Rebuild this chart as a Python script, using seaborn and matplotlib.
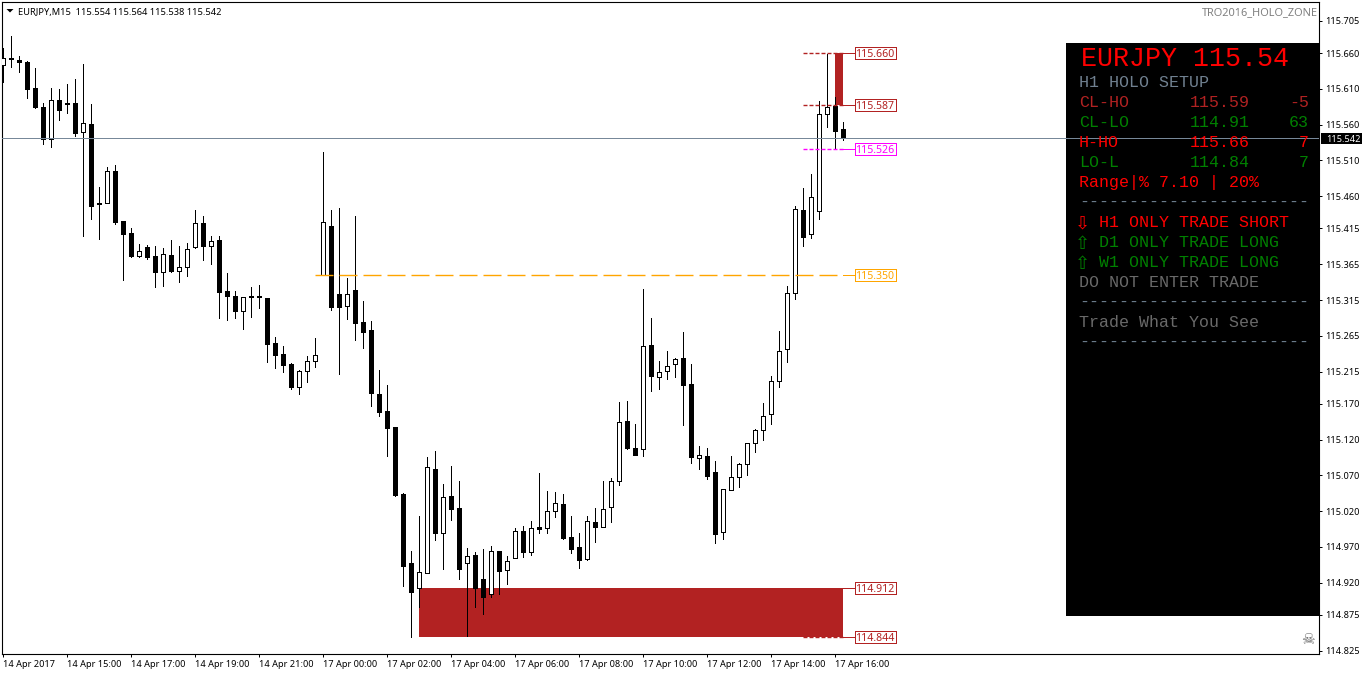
import matplotlib
matplotlib.use('Agg')
import matplotlib.pyplot as plt
from matplotlib.patches import Rectangle, Polygon
from matplotlib.transforms import Affine2D
import numpy as np
import pandas as pd
import seaborn as sns

# EURJPY M15 candles
opens = [115.643, 115.652, 115.650, 115.648, 115.611, 115.585, 115.540, 115.595, 115.590, 115.590,
         115.550, 115.561, 115.451, 115.451, 115.495, 115.426, 115.409, 115.377, 115.389, 115.377,
         115.354, 115.378, 115.356, 115.361, 115.389, 115.423, 115.391, 115.399, 115.328, 115.321,
         115.300, 115.321, 115.321, 115.318, 115.255, 115.240, 115.225, 115.194, 115.216, 115.230,
         115.350, 115.418, 115.323, 115.307, 115.329, 115.284, 115.273, 115.184, 115.160, 115.138,
         115.044, 114.947, 114.913, 114.934, 115.079, 114.990, 115.041, 115.024, 114.947, 114.959,
         114.925, 114.904, 114.964, 114.938, 114.955, 114.992, 114.963, 114.998, 114.996, 115.020,
         115.030, 114.984, 114.970, 114.953, 115.005, 114.998, 115.026, 115.062, 115.146, 115.108,
         115.107, 115.252, 115.208, 115.216, 115.225, 115.234, 115.198, 115.094, 115.097, 115.075,
         114.991, 115.050, 115.068, 115.086, 115.115, 115.133, 115.156, 115.202, 115.247, 115.325,
         115.441, 115.407, 115.439, 115.575, 115.586, 115.554]
highs = [115.667, 115.684, 115.656, 115.649, 115.639, 115.590, 115.611, 115.610, 115.617, 115.624,
         115.645, 115.589, 115.473, 115.501, 115.504, 115.426, 115.416, 115.393, 115.392, 115.391,
         115.388, 115.399, 115.391, 115.395, 115.441, 115.433, 115.405, 115.405, 115.353, 115.328,
         115.319, 115.333, 115.336, 115.318, 115.263, 115.251, 115.227, 115.217, 115.237, 115.262,
         115.522, 115.441, 115.444, 115.346, 115.433, 115.314, 115.286, 115.217, 115.196, 115.138,
         115.046, 114.964, 115.013, 115.096, 115.104, 115.058, 115.083, 115.062, 114.968, 114.963,
         114.967, 114.971, 114.964, 114.957, 114.996, 114.999, 115.006, 115.073, 115.048, 115.047,
         115.044, 115.013, 114.990, 115.013, 115.024, 115.062, 115.066, 115.172, 115.174, 115.142,
         115.330, 115.290, 115.230, 115.244, 115.234, 115.270, 115.225, 115.111, 115.108, 115.090,
         115.051, 115.097, 115.087, 115.115, 115.135, 115.171, 115.209, 115.272, 115.335, 115.446,
         115.472, 115.491, 115.593, 115.659, 115.599, 115.564]
lows = [115.620, 115.641, 115.634, 115.597, 115.583, 115.533, 115.529, 115.567, 115.576, 115.544,
        115.405, 115.428, 115.400, 115.451, 115.421, 115.343, 115.375, 115.375, 115.372, 115.333,
        115.335, 115.354, 115.340, 115.349, 115.388, 115.371, 115.365, 115.290, 115.287, 115.290,
        115.274, 115.291, 115.304, 115.228, 115.220, 115.214, 115.190, 115.184, 115.200, 115.221,
        115.350, 115.301, 115.212, 115.288, 115.259, 115.248, 115.167, 115.153, 115.097, 115.041,
        114.915, 114.844, 114.886, 114.934, 114.980, 114.939, 115.008, 114.925, 114.846, 114.886,
        114.876, 114.900, 114.904, 114.918, 114.954, 114.956, 114.959, 114.990, 114.990, 115.012,
        114.981, 114.961, 114.940, 114.952, 114.977, 114.998, 115.005, 115.057, 115.107, 115.098,
        115.097, 115.188, 115.190, 115.205, 115.208, 115.140, 115.087, 115.079, 115.065, 114.976,
        114.981, 115.050, 115.054, 115.070, 115.102, 115.119, 115.142, 115.194, 115.228, 115.316,
        115.391, 115.402, 115.428, 115.557, 115.526, 115.538]
closes = [115.653, 115.653, 115.648, 115.610, 115.585, 115.540, 115.595, 115.581, 115.589, 115.548,
          115.562, 115.446, 115.449, 115.495, 115.424, 115.407, 115.377, 115.384, 115.375, 115.354,
          115.379, 115.356, 115.361, 115.386, 115.423, 115.391, 115.398, 115.326, 115.321, 115.300,
          115.319, 115.319, 115.319, 115.254, 115.238, 115.224, 115.194, 115.216, 115.230, 115.238,
          115.424, 115.305, 115.305, 115.323, 115.283, 115.270, 115.185, 115.159, 115.136, 115.043,
          114.943, 114.907, 114.935, 115.082, 114.990, 115.040, 115.023, 114.939, 114.957, 114.913,
          114.900, 114.964, 114.936, 114.950, 114.992, 114.963, 114.996, 114.995, 115.020, 115.031,
          114.982, 114.967, 114.952, 115.006, 114.998, 115.023, 115.062, 115.144, 115.108, 115.098,
          115.251, 115.209, 115.214, 115.223, 115.233, 115.196, 115.096, 115.098, 115.069, 114.988,
          115.051, 115.068, 115.086, 115.115, 115.133, 115.153, 115.202, 115.244, 115.325, 115.442,
          115.403, 115.459, 115.575, 115.585, 115.551, 115.542]

price_ticks = [115.705, 115.660, 115.610, 115.560, 115.510, 115.460, 115.415, 115.365, 115.315, 115.265,
               115.215, 115.170, 115.120, 115.070, 115.020, 114.970, 114.920, 114.875, 114.825]
time_tick_bars = [0, 8, 16, 24, 32, 40, 48, 56, 64, 72, 80, 88, 96, 104]
time_tick_labels = ['14 Apr 2017', '14 Apr 15:00', '14 Apr 17:00', '14 Apr 19:00', '14 Apr 21:00',
                    '17 Apr 00:00', '17 Apr 02:00', '17 Apr 04:00', '17 Apr 06:00', '17 Apr 08:00',
                    '17 Apr 10:00', '17 Apr 12:00', '17 Apr 14:00', '17 Apr 16:00']

last_price = 115.542
level_values = [115.660, 115.587, 115.526, 115.350, 114.912, 114.844]
level_colors = ['firebrick', 'firebrick', 'magenta', 'orange', 'firebrick', 'firebrick']
level_start_bars = [100, 100, 100, 39, None, 100]

panel_rows = [('H1 HOLO SETUP', 'slategray'), ('CL-HO', 'firebrick'), ('CL-LO', 'green'), ('H-HO', 'red'),
              ('LO-L', 'green'), ('Range|% 7.10 | 20%', 'red'), ('-' * 23, 'slategray')]
panel_values = ['115.59', '114.91', '115.66', '114.84']
panel_value_colors = ['firebrick', 'green', 'red', 'green']
panel_pips = ['-5', '63', '7', '7']
panel_pip_colors = ['firebrick', 'green', 'red', 'green']
trade_rows = [('H1 ONLY TRADE SHORT', 'red', '\u21e9'), ('D1 ONLY TRADE LONG', 'green', '\u21e7'),
              ('W1 ONLY TRADE LONG', 'green', '\u21e7')]

sns.set_style('white', rc={'axes.edgecolor': 'black', 'axes.linewidth': 0.72, 'xtick.bottom': True,
                           'ytick.right': True, 'xtick.color': 'black', 'ytick.color': 'black'})
plt.rcParams['font.family'] = ['Noto Sans', 'DejaVu Sans']

df = pd.DataFrame({'bar': np.arange(len(opens)), 'open': opens, 'high': highs, 'low': lows, 'close': closes})
df['body_low'] = df[['open', 'close']].min(axis=1)
df['body_size'] = (df['close'] - df['open']).abs()
wicks = df.melt(id_vars='bar', value_vars=['high', 'low'], value_name='price')

fig = plt.figure(figsize=(13.62, 6.75), dpi=100)
ax = fig.add_axes([2 / 1362, 21 / 675, 1317 / 1362, 652 / 675])
px = Affine2D().scale(1, -1).translate(0, 675)  # picture pixels, origin top left

BAR_PX = 8          # one candle step
PRICE_PX = 0.0013975  # price per pixel
SCALE_FONT = 6.6    # axis scales and chart header

# zones behind the candles
ax.add_patch(Rectangle((52, 114.844), 53, 114.912 - 114.844, color='firebrick', lw=0, zorder=1))
ax.add_patch(Rectangle((104, 115.587), 1, 115.660 - 115.587, color='firebrick', lw=0, zorder=1))

sns.lineplot(data=wicks, x='bar', y='price', units='bar', estimator=None, color='black', linewidth=0.72,
             antialiased=False, zorder=2, ax=ax)
for up, fill in [(True, 'white'), (False, 'black')]:
    sub = df[(df['close'] >= df['open']) == up]
    sns.barplot(data=sub, x='bar', y='body_size', bottom=sub['body_low'].values, native_scale=True, width=0.5,
                color=fill, saturation=1, edgecolor='black', linewidth=0.72, errorbar=None,
                antialiased=False, zorder=3, ax=ax)

# level lines and price boxes
label_bar = 106.4
for value, color, start in zip(level_values, level_colors, level_start_bars):
    if start is not None:
        dashes = (18, 6) if color == 'orange' else (4, 2)
        ax.plot([start, 105], [value, value], color=color, lw=1.0, ls=(0, [d * 0.72 for d in dashes]), zorder=4)
    ax.plot([105, label_bar], [value, value], color=color, lw=0.72, antialiased=False, zorder=4)
    ax.add_patch(Rectangle((label_bar, value - 6 * PRICE_PX), 41 / BAR_PX, 12 * PRICE_PX, fc='white', ec=color,
                           lw=0.72, antialiased=False, zorder=4))
    ax.text(label_bar + 20.5 / BAR_PX, value, f'{value:.3f}', color=color, fontsize=7.6, ha='center',
            va='center_baseline', zorder=5)

# info panel
ax.add_patch(Rectangle((1066, 43), 254, 573, fc='black', lw=0, transform=px, zorder=6))
ax.axhline(last_price, color='#778899', lw=0.72, antialiased=False, zorder=7)


def mono(x, y, s, color, size=12, ha='left'):
    ax.text(x, y, s, color=color, fontsize=size, family='Liberation Mono', ha=ha, va='baseline',
            transform=px, zorder=8)


mono(1081, 66, 'EURJPY 115.54', 'red', size=19.2)
row_y = 87
for label, color in panel_rows:
    mono(1079, row_y, label, color)
    row_y += 20
for i in range(4):
    y = 107 + 20 * i
    mono(1190, y, panel_values[i], panel_value_colors[i])
    mono(1309, y, panel_pips[i], panel_pip_colors[i], ha='right')
row_y = 227
for label, color, arrow in trade_rows:
    ax.text(1082, row_y - 5, arrow, color=color, fontsize=13, family='DejaVu Sans', ha='center',
            va='center_baseline', transform=px, zorder=8)
    mono(1099, row_y, label, color)
    row_y += 20
mono(1079, 287, 'DO NOT ENTER TRADE', 'dimgray')
mono(1079, 307, '-' * 23, 'slategray')
mono(1079, 327, 'Trade What You See', 'dimgray')
mono(1079, 347, '-' * 23, 'slategray')

# chart furniture
ax.add_patch(Polygon([(6.5, 9), (13.5, 9), (10, 12.5)], fc='black', lw=0, transform=px, zorder=8))
ax.text(18, 11, 'EURJPY,M15  115.554 115.564 115.538 115.542', color='black', fontsize=6.7, va='center_baseline',
        transform=px, zorder=8)
ax.text(1318, 11, 'TRO2016_HOLO_ZONE', color='gray', fontsize=7.9, ha='right', va='center_baseline',
        transform=px, zorder=8)
ax.text(1308, 640, '\u2620', color='dimgray', fontsize=11, family='DejaVu Sans', ha='center', va='center',
        transform=px, zorder=8)

ax.set(xlabel='', ylabel='')
ax.set_xlim(-0.1625, 164.46)
ax.set_ylim(114.8203, 115.7315)
ax.yaxis.tick_right()
ax.set_yticks(price_ticks, [f'{p:.3f}' for p in price_ticks])
ax.set_xticks(time_tick_bars, time_tick_labels, ha='left')
ax.tick_params(axis='both', length=2.2, width=0.72, labelsize=SCALE_FONT, color='black', labelcolor='black')
ax.tick_params(axis='x', pad=2)
ax.tick_params(axis='y', pad=2.5)
ax.grid(False)

# current price tag on the scale
fig.add_artist(Rectangle((1321, 133), 41, 11, fc='black', lw=0, transform=px))
fig.text(1326, 138.5, f'{last_price:.3f}', color='white', fontsize=SCALE_FONT, va='center_baseline', transform=px)

fig.savefig('out.png', dpi=100)
